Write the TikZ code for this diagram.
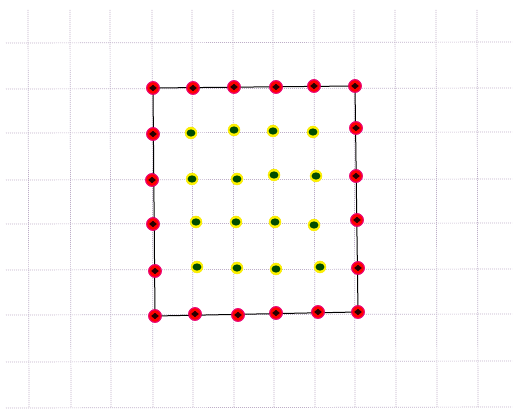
\documentclass[tikz,border=0pt]{standalone}
\definecolor{gridc}{RGB}{190,175,200}
\begin{document}
\begin{tikzpicture}[x=1pt,y=-1pt,
  gridline/.style={draw=gridc, line width=0.7pt, dash pattern=on 0.8pt off 1.2pt},
  reddot/.style={circle, fill=red, draw=magenta!80!red, line width=1pt, minimum size=12.5pt, inner sep=0pt,
    path picture={\fill[black!85!red] (path picture bounding box.center) +(-3.8,0) -- +(0,-3.2) -- +(3.8,0) -- +(0,3.2) -- cycle;}},
  yeldot/.style={circle, fill=yellow, draw=yellow!90!olive, minimum size=12pt, inner sep=0pt,
    path picture={\fill[green!30!black] (path picture bounding box.center) ellipse (4.4 and 3.6);}},
  edge/.style={draw=black, line width=1pt}]
\useasboundingbox (0,0) rectangle (517,411);
\fill[white] (0,0) rectangle (517,411);
% grid
\foreach \x in {28,70,110,152,192,233,273,314,354,395,436,477}
  \draw[gridline] (\x,10) -- (\x+1,408);
\foreach \y in {43,89,133,180,224,270,315,362,408}
  \draw[gridline] (6,\y) -- (512,\y-1);
% border points
\node[reddot] (a1) at (153,88) {};
\node[reddot] (a2) at (193,88) {};
\node[reddot] (a3) at (234,87) {};
\node[reddot] (a4) at (276,87) {};
\node[reddot] (a5) at (314,86) {};
\node[reddot] (a6) at (355,86) {};
\node[reddot] (b6) at (356,128) {};
\node[reddot] (c6) at (356,176) {};
\node[reddot] (d6) at (357,220) {};
\node[reddot] (e6) at (358,268) {};
\node[reddot] (f6) at (358,312) {};
\node[reddot] (f5) at (318,312) {};
\node[reddot] (f4) at (276,313) {};
\node[reddot] (f3) at (238,315) {};
\node[reddot] (f2) at (195,314) {};
\node[reddot] (f1) at (155,316) {};
\node[reddot] (e1) at (155,271) {};
\node[reddot] (d1) at (153,224) {};
\node[reddot] (c1) at (152,180) {};
\node[reddot] (b1) at (153,134) {};
% square
\draw[edge] (a1.center) -- (a6.center) -- (f6.center) -- (f1.center) -- cycle;
% redraw red dots above edge
\foreach \n in {a1,a2,a3,a4,a5,a6,b6,c6,d6,e6,f6,f5,f4,f3,f2,f1,e1,d1,c1,b1}
  \node[reddot] at (\n) {};
% interior points
\node[yeldot] (b2) at (191,133) {};
\node[yeldot] (b3) at (234,130) {};
\node[yeldot] (b4) at (273,131) {};
\node[yeldot] (b5) at (313,132) {};
\node[yeldot] (c2) at (192,179) {};
\node[yeldot] (c3) at (237,179) {};
\node[yeldot] (c4) at (274,175) {};
\node[yeldot] (c5) at (316,176) {};
\node[yeldot] (d2) at (196,222) {};
\node[yeldot] (d3) at (236,222) {};
\node[yeldot] (d4) at (275,222) {};
\node[yeldot] (d5) at (314,225) {};
\node[yeldot] (e2) at (197,267) {};
\node[yeldot] (e3) at (237,268) {};
\node[yeldot] (e4) at (276,269) {};
\node[yeldot] (e5) at (320,267) {};
\end{tikzpicture}
\end{document}
